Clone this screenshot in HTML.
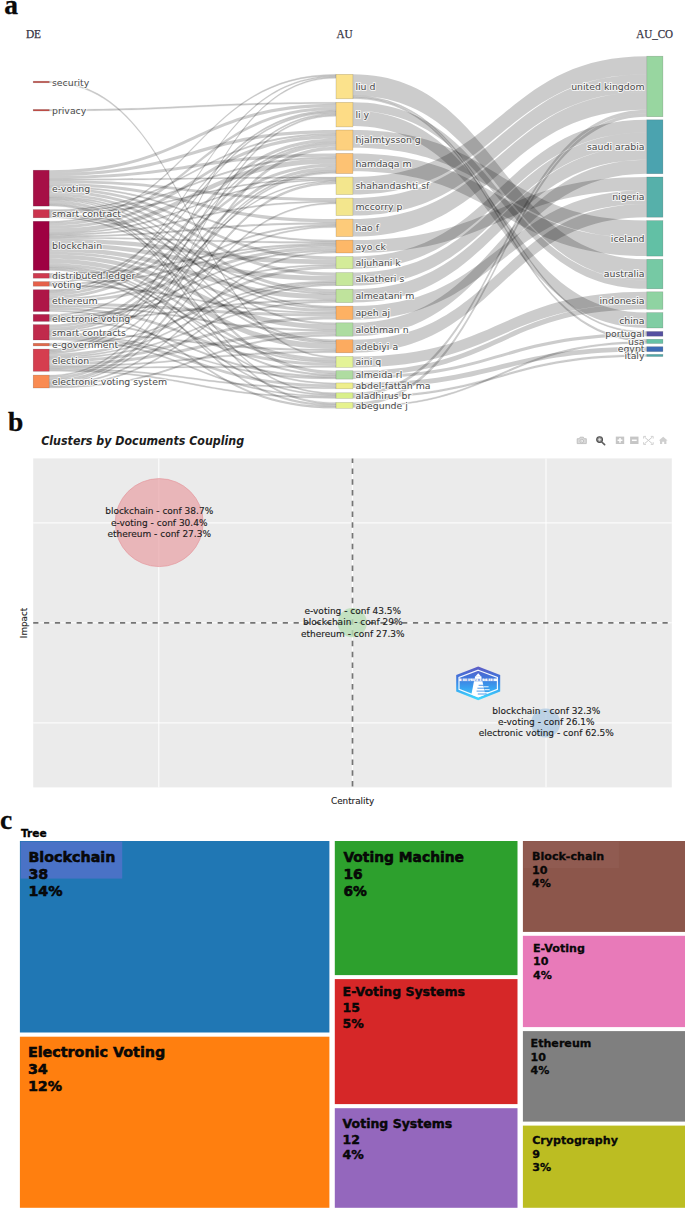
<!DOCTYPE html>
<html lang="en"><head><meta charset="utf-8"><title>Figure</title>
<style>
html,body{margin:0;padding:0;background:#fff}
body{width:685px;height:1214px;overflow:hidden}
svg{display:block}
.sl text{font-family:"DejaVu Sans","Liberation Sans",sans-serif;font-size:9.35px;fill:#4a4a4a;paint-order:stroke;stroke:#fff;stroke-width:2px;stroke-opacity:.75;stroke-linejoin:round}
.hd text{font-family:"Liberation Serif",serif;font-size:12.1px;fill:#33313f;stroke:#33313f;stroke-width:.25px}
.pl text{font-family:"Liberation Serif",serif;font-weight:bold;font-size:27.5px;fill:#0a0a0a;stroke:#0a0a0a;stroke-width:.3px}

.bt text{font-family:"DejaVu Sans","Liberation Sans",sans-serif;font-size:9px;fill:#1b1b1b;stroke:#1b1b1b;stroke-width:.12px}
.btitle{font-family:"DejaVu Sans","Liberation Sans",sans-serif;font-weight:bold;font-style:italic;font-size:11.9px;fill:#1c1c1c}
.bax{font-family:"DejaVu Sans","Liberation Sans",sans-serif;font-size:8.8px;fill:#222;stroke:#222;stroke-width:.12px}
.ctree{font-family:"DejaVu Sans","Liberation Sans",sans-serif;font-weight:bold;font-size:10.6px;fill:#000;stroke:#000;stroke-width:.3px}
.c1 text,.c1b text,.c2 text,.c3 text{font-family:"DejaVu Sans","Liberation Sans",sans-serif;font-weight:bold;fill:#0a0a0a;stroke:#000;stroke-width:.5px}
.c1 text{font-size:14.3px}.c1b text{font-size:13.85px}.c2 text{font-size:12.5px}.c3 text{font-size:11.1px;stroke-width:.28px}.c2 text{stroke-width:.4px}
</style></head>
<body>
<svg width="685" height="1214" viewBox="0 0 685 1214">
<rect width="685" height="1214" fill="#fff"/>
<g id="sankey">
<g fill="#000" fill-opacity="0.2">
<path d="M49.2,180.25C192.6,180.25 192.6,198.10 336.0,198.10L336.0,201.10C192.6,201.10 192.6,183.12 49.2,183.12Z"/>
<path d="M49.2,173.07C192.6,173.07 192.6,130.00 336.0,130.00L336.0,133.37C192.6,133.37 192.6,175.94 49.2,175.94Z"/>
<path d="M49.2,170.20C192.6,170.20 192.6,103.86 336.0,103.86L336.0,106.97C192.6,106.97 192.6,173.07 49.2,173.07Z"/>
<path d="M49.2,190.30C192.6,190.30 192.6,272.60 336.0,272.60L336.0,275.88C192.6,275.88 192.6,193.18 49.2,193.18Z"/>
<path d="M49.2,183.12C192.6,183.12 192.6,219.10 336.0,219.10L336.0,222.50C192.6,222.50 192.6,186.00 49.2,186.00Z"/>
<path d="M49.2,187.43C192.6,187.43 192.6,256.50 336.0,256.50L336.0,259.57C192.6,259.57 192.6,190.30 49.2,190.30Z"/>
<path d="M49.2,175.94C192.6,175.94 192.6,153.40 336.0,153.40L336.0,156.77C192.6,156.77 192.6,178.82 49.2,178.82Z"/>
<path d="M49.2,193.18C192.6,193.18 192.6,289.20 336.0,289.20L336.0,292.55C192.6,292.55 192.6,196.05 49.2,196.05Z"/>
<path d="M49.2,200.36C192.6,200.36 192.6,370.70 336.0,370.70L336.0,374.06C192.6,374.06 192.6,203.23 49.2,203.23Z"/>
<path d="M49.2,242.96C192.6,242.96 192.6,275.88 336.0,275.88L336.0,280.79C192.6,280.79 192.6,247.29 49.2,247.29Z"/>
<path d="M49.2,222.74C192.6,222.74 192.6,106.97 336.0,106.97L336.0,110.08C192.6,110.08 192.6,225.63 49.2,225.63Z"/>
<path d="M49.2,228.52C192.6,228.52 192.6,158.45 336.0,158.45L336.0,163.50C192.6,163.50 192.6,232.85 49.2,232.85Z"/>
<path d="M49.2,254.51C192.6,254.51 192.6,324.48 336.0,324.48L336.0,329.50C192.6,329.50 192.6,258.85 49.2,258.85Z"/>
<path d="M49.2,238.63C192.6,238.63 192.6,259.57 336.0,259.57L336.0,264.19C192.6,264.19 192.6,242.96 49.2,242.96Z"/>
<path d="M49.2,247.29C192.6,247.29 192.6,294.23 336.0,294.23L336.0,299.25C192.6,299.25 192.6,251.63 49.2,251.63Z"/>
<path d="M49.2,263.18C192.6,263.18 192.6,357.97 336.0,357.97L336.0,361.11C192.6,361.11 192.6,266.07 49.2,266.07Z"/>
<path d="M49.2,258.85C192.6,258.85 192.6,343.44 336.0,343.44L336.0,349.06C192.6,349.06 192.6,263.18 49.2,263.18Z"/>
<path d="M49.2,225.63C192.6,225.63 192.6,135.05 336.0,135.05L336.0,138.42C192.6,138.42 192.6,228.52 49.2,228.52Z"/>
<path d="M49.2,251.63C192.6,251.63 192.6,309.10 336.0,309.10L336.0,312.10C192.6,312.10 192.6,254.51 49.2,254.51Z"/>
<path d="M49.2,302.78C192.6,302.78 192.6,313.60 336.0,313.60L336.0,316.60C192.6,316.60 192.6,305.69 49.2,305.69Z"/>
<path d="M49.2,307.14C192.6,307.14 192.6,362.69 336.0,362.69L336.0,365.83C192.6,365.83 192.6,310.05 49.2,310.05Z"/>
<path d="M49.2,295.51C192.6,295.51 192.6,163.50 336.0,163.50L336.0,166.87C192.6,166.87 192.6,298.42 49.2,298.42Z"/>
<path d="M49.2,299.87C192.6,299.87 192.6,246.55 336.0,246.55L336.0,249.78C192.6,249.78 192.6,302.78 49.2,302.78Z"/>
<path d="M49.2,292.61C192.6,292.61 192.6,138.42 336.0,138.42L336.0,141.78C192.6,141.78 192.6,295.51 49.2,295.51Z"/>
<path d="M49.2,335.80C192.6,335.80 192.6,384.38 336.0,384.38L336.0,387.33C192.6,387.33 192.6,338.60 49.2,338.60Z"/>
<path d="M49.2,327.40C192.6,327.40 192.6,166.87 336.0,166.87L336.0,170.23C192.6,170.23 192.6,330.20 49.2,330.20Z"/>
<path d="M49.2,324.60C192.6,324.60 192.6,143.47 336.0,143.47L336.0,146.83C192.6,146.83 192.6,327.40 49.2,327.40Z"/>
<path d="M49.2,359.46C192.6,359.46 192.6,316.60 336.0,316.60L336.0,319.60C192.6,319.60 192.6,362.42 49.2,362.42Z"/>
<path d="M49.2,353.54C192.6,353.54 192.6,265.73 336.0,265.73L336.0,268.80C192.6,268.80 192.6,356.50 49.2,356.50Z"/>
<path d="M49.2,362.42C192.6,362.42 192.6,331.18 336.0,331.18L336.0,334.52C192.6,334.52 192.6,365.38 49.2,365.38Z"/>
<path d="M49.2,376.53C192.6,376.53 192.6,146.83 336.0,146.83L336.0,150.20C192.6,150.20 192.6,379.40 49.2,379.40Z"/>
<path d="M352.9,74.30C499.8,74.30 499.8,259.30 646.8,259.30L646.8,280.43C499.8,280.43 499.8,95.50 352.9,95.50Z"/>
<path d="M352.9,102.30C499.8,102.30 499.8,280.43 646.8,280.43L646.8,288.80C499.8,288.80 499.8,110.70 352.9,110.70Z"/>
<path d="M352.9,110.70C499.8,110.70 499.8,312.60 646.8,312.60L646.8,328.00C499.8,328.00 499.8,126.10 352.9,126.10Z"/>
<path d="M352.9,130.00C499.8,130.00 499.8,220.60 646.8,220.60L646.8,238.35C499.8,238.35 499.8,147.75 352.9,147.75Z"/>
<path d="M352.9,153.40C499.8,153.40 499.8,238.35 646.8,238.35L646.8,256.10C499.8,256.10 499.8,171.15 352.9,171.15Z"/>
<path d="M352.9,177.00C499.8,177.00 499.8,56.20 646.8,56.20L646.8,74.16C499.8,74.16 499.8,194.60 352.9,194.60Z"/>
<path d="M352.9,198.10C499.8,198.10 499.8,74.16 646.8,74.16L646.8,92.01C499.8,92.01 499.8,215.60 352.9,215.60Z"/>
<path d="M352.9,219.10C499.8,219.10 499.8,92.01 646.8,92.01L646.8,109.86C499.8,109.86 499.8,236.60 352.9,236.60Z"/>
<path d="M352.9,240.10C499.8,240.10 499.8,177.00 646.8,177.00L646.8,190.23C499.8,190.23 499.8,253.00 352.9,253.00Z"/>
<path d="M352.9,306.10C499.8,306.10 499.8,190.23 646.8,190.23L646.8,203.97C499.8,203.97 499.8,319.60 352.9,319.60Z"/>
<path d="M352.9,339.70C499.8,339.70 499.8,203.97 646.8,203.97L646.8,217.20C499.8,217.20 499.8,352.70 352.9,352.70Z"/>
<path d="M352.9,256.50C499.8,256.50 499.8,119.80 646.8,119.80L646.8,132.52C499.8,132.52 499.8,268.80 352.9,268.80Z"/>
<path d="M352.9,272.60C499.8,272.60 499.8,132.52 646.8,132.52L646.8,145.97C499.8,145.97 499.8,285.60 352.9,285.60Z"/>
<path d="M352.9,289.20C499.8,289.20 499.8,145.97 646.8,145.97L646.8,159.84C499.8,159.84 499.8,302.60 352.9,302.60Z"/>
<path d="M352.9,322.80C499.8,322.80 499.8,159.84 646.8,159.84L646.8,173.70C499.8,173.70 499.8,336.20 352.9,336.20Z"/>
<path d="M352.9,356.40C499.8,356.40 499.8,291.80 646.8,291.80L646.8,303.83C499.8,303.83 499.8,367.40 352.9,367.40Z"/>
<path d="M352.9,370.70C499.8,370.70 499.8,303.83 646.8,303.83L646.8,309.30C499.8,309.30 499.8,375.70 352.9,375.70Z"/>
<path d="M352.9,375.70C499.8,375.70 499.8,333.07 646.8,333.07L646.8,336.20C499.8,336.20 499.8,378.90 352.9,378.90Z"/>
<path d="M352.9,382.90C499.8,382.90 499.8,346.70 646.8,346.70L646.8,351.60C499.8,351.60 499.8,387.90 352.9,387.90Z"/>
<path d="M352.9,392.80C499.8,392.80 499.8,109.86 646.8,109.86L646.8,113.23C499.8,113.23 499.8,396.10 352.9,396.10Z"/>
<path d="M352.9,402.50C499.8,402.50 499.8,113.23 646.8,113.23L646.8,116.70C499.8,116.70 499.8,405.90 352.9,405.90Z"/>
</g>
<g fill="#000" fill-opacity="0.2" stroke="#000" stroke-opacity="0.10" stroke-width="0.5">
<path d="M49.2,81.20C192.6,81.20 192.6,356.40 336.0,356.40L336.0,357.97C192.6,357.97 192.6,82.80 49.2,82.80Z"/>
<path d="M49.2,109.40C192.6,109.40 192.6,102.30 336.0,102.30L336.0,103.86C192.6,103.86 192.6,111.00 49.2,111.00Z"/>
<path d="M49.2,196.05C192.6,196.05 192.6,306.10 336.0,306.10L336.0,307.60C192.6,307.60 192.6,197.48 49.2,197.48Z"/>
<path d="M49.2,186.00C192.6,186.00 192.6,240.10 336.0,240.10L336.0,241.71C192.6,241.71 192.6,187.43 49.2,187.43Z"/>
<path d="M49.2,198.92C192.6,198.92 192.6,339.70 336.0,339.70L336.0,341.57C192.6,341.57 192.6,200.36 49.2,200.36Z"/>
<path d="M49.2,203.23C192.6,203.23 192.6,392.80 336.0,392.80L336.0,394.20C192.6,394.20 192.6,204.66 49.2,204.66Z"/>
<path d="M49.2,197.48C192.6,197.48 192.6,322.80 336.0,322.80L336.0,324.48C192.6,324.48 192.6,198.92 49.2,198.92Z"/>
<path d="M49.2,204.66C192.6,204.66 192.6,402.50 336.0,402.50L336.0,404.43C192.6,404.43 192.6,206.10 49.2,206.10Z"/>
<path d="M49.2,178.82C192.6,178.82 192.6,177.00 336.0,177.00L336.0,178.17C192.6,178.17 192.6,180.25 49.2,180.25Z"/>
<path d="M49.2,209.60C192.6,209.60 192.6,133.37 336.0,133.37L336.0,135.05C192.6,135.05 192.6,210.97 49.2,210.97Z"/>
<path d="M49.2,212.33C192.6,212.33 192.6,178.17 336.0,178.17L336.0,179.33C192.6,179.33 192.6,213.70 49.2,213.70Z"/>
<path d="M49.2,216.43C192.6,216.43 192.6,341.57 336.0,341.57L336.0,343.44C192.6,343.44 192.6,217.80 49.2,217.80Z"/>
<path d="M49.2,210.97C192.6,210.97 192.6,156.77 336.0,156.77L336.0,158.45C192.6,158.45 192.6,212.33 49.2,212.33Z"/>
<path d="M49.2,213.70C192.6,213.70 192.6,292.55 336.0,292.55L336.0,294.23C192.6,294.23 192.6,215.07 49.2,215.07Z"/>
<path d="M49.2,215.07C192.6,215.07 192.6,307.60 336.0,307.60L336.0,309.10C192.6,309.10 192.6,216.43 49.2,216.43Z"/>
<path d="M49.2,237.19C192.6,237.19 192.6,241.71 336.0,241.71L336.0,243.33C192.6,243.33 192.6,238.63 49.2,238.63Z"/>
<path d="M49.2,234.30C192.6,234.30 192.6,201.10 336.0,201.10L336.0,202.60C192.6,202.60 192.6,235.74 49.2,235.74Z"/>
<path d="M49.2,232.85C192.6,232.85 192.6,179.33 336.0,179.33L336.0,180.50C192.6,180.50 192.6,234.30 49.2,234.30Z"/>
<path d="M49.2,266.07C192.6,266.07 192.6,374.06 336.0,374.06L336.0,375.74C192.6,375.74 192.6,267.51 49.2,267.51Z"/>
<path d="M49.2,268.96C192.6,268.96 192.6,404.43 336.0,404.43L336.0,406.37C192.6,406.37 192.6,270.40 49.2,270.40Z"/>
<path d="M49.2,221.30C192.6,221.30 192.6,74.30 336.0,74.30L336.0,75.63C192.6,75.63 192.6,222.74 49.2,222.74Z"/>
<path d="M49.2,267.51C192.6,267.51 192.6,382.90 336.0,382.90L336.0,384.38C192.6,384.38 192.6,268.96 49.2,268.96Z"/>
<path d="M49.2,235.74C192.6,235.74 192.6,222.50 336.0,222.50L336.0,224.20C192.6,224.20 192.6,237.19 49.2,237.19Z"/>
<path d="M49.2,273.30C192.6,273.30 192.6,243.33 336.0,243.33L336.0,244.94C192.6,244.94 192.6,274.93 49.2,274.93Z"/>
<path d="M49.2,274.93C192.6,274.93 192.6,361.11 336.0,361.11L336.0,362.69C192.6,362.69 192.6,276.57 49.2,276.57Z"/>
<path d="M49.2,276.57C192.6,276.57 192.6,394.20 336.0,394.20L336.0,395.60C192.6,395.60 192.6,278.20 49.2,278.20Z"/>
<path d="M49.2,283.13C192.6,283.13 192.6,244.94 336.0,244.94L336.0,246.55C192.6,246.55 192.6,284.67 49.2,284.67Z"/>
<path d="M49.2,284.67C192.6,284.67 192.6,312.10 336.0,312.10L336.0,313.60C192.6,313.60 192.6,286.20 49.2,286.20Z"/>
<path d="M49.2,281.60C192.6,281.60 192.6,110.08 336.0,110.08L336.0,111.63C192.6,111.63 192.6,283.13 49.2,283.13Z"/>
<path d="M49.2,305.69C192.6,305.69 192.6,329.50 336.0,329.50L336.0,331.18C192.6,331.18 192.6,307.14 49.2,307.14Z"/>
<path d="M49.2,310.05C192.6,310.05 192.6,406.37 336.0,406.37L336.0,408.30C192.6,408.30 192.6,311.50 49.2,311.50Z"/>
<path d="M49.2,298.42C192.6,298.42 192.6,224.20 336.0,224.20L336.0,225.90C192.6,225.90 192.6,299.87 49.2,299.87Z"/>
<path d="M49.2,289.70C192.6,289.70 192.6,75.63 336.0,75.63L336.0,76.97C192.6,76.97 192.6,291.15 49.2,291.15Z"/>
<path d="M49.2,291.15C192.6,291.15 192.6,111.63 336.0,111.63L336.0,113.19C192.6,113.19 192.6,292.61 49.2,292.61Z"/>
<path d="M49.2,315.80C192.6,315.80 192.6,249.78 336.0,249.78L336.0,251.39C192.6,251.39 192.6,317.20 49.2,317.20Z"/>
<path d="M49.2,320.00C192.6,320.00 192.6,375.74 336.0,375.74L336.0,377.42C192.6,377.42 192.6,321.40 49.2,321.40Z"/>
<path d="M49.2,314.40C192.6,314.40 192.6,141.78 336.0,141.78L336.0,143.47C192.6,143.47 192.6,315.80 49.2,315.80Z"/>
<path d="M49.2,317.20C192.6,317.20 192.6,264.19 336.0,264.19L336.0,265.73C192.6,265.73 192.6,318.60 49.2,318.60Z"/>
<path d="M49.2,318.60C192.6,318.60 192.6,299.25 336.0,299.25L336.0,300.93C192.6,300.93 192.6,320.00 49.2,320.00Z"/>
<path d="M49.2,333.00C192.6,333.00 192.6,349.06 336.0,349.06L336.0,350.93C192.6,350.93 192.6,334.40 49.2,334.40Z"/>
<path d="M49.2,334.40C192.6,334.40 192.6,377.42 336.0,377.42L336.0,379.10C192.6,379.10 192.6,335.80 49.2,335.80Z"/>
<path d="M49.2,331.60C192.6,331.60 192.6,225.90 336.0,225.90L336.0,227.60C192.6,227.60 192.6,333.00 49.2,333.00Z"/>
<path d="M49.2,330.20C192.6,330.20 192.6,180.50 336.0,180.50L336.0,181.67C192.6,181.67 192.6,331.60 49.2,331.60Z"/>
<path d="M49.2,338.60C192.6,338.60 192.6,395.60 336.0,395.60L336.0,397.00C192.6,397.00 192.6,340.00 49.2,340.00Z"/>
<path d="M49.2,343.30C192.6,343.30 192.6,170.23 336.0,170.23L336.0,171.92C192.6,171.92 192.6,344.60 49.2,344.60Z"/>
<path d="M49.2,344.60C192.6,344.60 192.6,280.79 336.0,280.79L336.0,282.42C192.6,282.42 192.6,345.90 49.2,345.90Z"/>
<path d="M49.2,352.06C192.6,352.06 192.6,171.92 336.0,171.92L336.0,173.60C192.6,173.60 192.6,353.54 49.2,353.54Z"/>
<path d="M49.2,349.10C192.6,349.10 192.6,76.97 336.0,76.97L336.0,78.30C192.6,78.30 192.6,350.58 49.2,350.58Z"/>
<path d="M49.2,369.82C192.6,369.82 192.6,397.00 336.0,397.00L336.0,398.40C192.6,398.40 192.6,371.30 49.2,371.30Z"/>
<path d="M49.2,356.50C192.6,356.50 192.6,282.42 336.0,282.42L336.0,284.06C192.6,284.06 192.6,357.98 49.2,357.98Z"/>
<path d="M49.2,357.98C192.6,357.98 192.6,300.93 336.0,300.93L336.0,302.60C192.6,302.60 192.6,359.46 49.2,359.46Z"/>
<path d="M49.2,350.58C192.6,350.58 192.6,113.19 336.0,113.19L336.0,114.74C192.6,114.74 192.6,352.06 49.2,352.06Z"/>
<path d="M49.2,368.34C192.6,368.34 192.6,387.33 336.0,387.33L336.0,388.80C192.6,388.80 192.6,369.82 49.2,369.82Z"/>
<path d="M49.2,365.38C192.6,365.38 192.6,350.93 336.0,350.93L336.0,352.80C192.6,352.80 192.6,366.86 49.2,366.86Z"/>
<path d="M49.2,366.86C192.6,366.86 192.6,365.83 336.0,365.83L336.0,367.40C192.6,367.40 192.6,368.34 49.2,368.34Z"/>
<path d="M49.2,386.57C192.6,386.57 192.6,334.52 336.0,334.52L336.0,336.20C192.6,336.20 192.6,388.00 49.2,388.00Z"/>
<path d="M49.2,379.40C192.6,379.40 192.6,181.67 336.0,181.67L336.0,184.00C192.6,184.00 192.6,382.27 49.2,382.27Z"/>
<path d="M49.2,382.27C192.6,382.27 192.6,202.60 336.0,202.60L336.0,204.10C192.6,204.10 192.6,383.70 49.2,383.70Z"/>
<path d="M49.2,385.13C192.6,385.13 192.6,284.06 336.0,284.06L336.0,285.70C192.6,285.70 192.6,386.57 49.2,386.57Z"/>
<path d="M49.2,375.10C192.6,375.10 192.6,114.74 336.0,114.74L336.0,116.30C192.6,116.30 192.6,376.53 49.2,376.53Z"/>
<path d="M49.2,383.70C192.6,383.70 192.6,251.39 336.0,251.39L336.0,253.00C192.6,253.00 192.6,385.13 49.2,385.13Z"/>
<path d="M352.9,95.50C499.8,95.50 499.8,331.50 646.8,331.50L646.8,333.07C499.8,333.07 499.8,97.10 352.9,97.10Z"/>
<path d="M352.9,97.10C499.8,97.10 499.8,339.30 646.8,339.30L646.8,341.47C499.8,341.47 499.8,98.70 352.9,98.70Z"/>
<path d="M352.9,396.10C499.8,396.10 499.8,354.40 646.8,354.40L646.8,356.50C499.8,356.50 499.8,398.20 352.9,398.20Z"/>
<path d="M352.9,405.90C499.8,405.90 499.8,341.47 646.8,341.47L646.8,343.50C499.8,343.50 499.8,407.40 352.9,407.40Z"/>
</g>
<g stroke="#000" stroke-opacity="0.22" stroke-width="0.6">
<rect x="33.2" y="81.2" width="16.0" height="1.6" fill="#c9524b"/>
<rect x="33.2" y="109.4" width="16.0" height="1.6" fill="#c9524b"/>
<rect x="33.2" y="170.2" width="16.0" height="35.9" fill="#a60f46"/>
<rect x="33.2" y="209.6" width="16.0" height="8.2" fill="#cb334e"/>
<rect x="33.2" y="221.3" width="16.0" height="49.1" fill="#9e0142"/>
<rect x="33.2" y="273.3" width="16.0" height="4.9" fill="#cf3a4f"/>
<rect x="33.2" y="281.6" width="16.0" height="4.6" fill="#e5604a"/>
<rect x="33.2" y="289.7" width="16.0" height="21.8" fill="#ae1647"/>
<rect x="33.2" y="314.4" width="16.0" height="7.0" fill="#b51c49"/>
<rect x="33.2" y="324.6" width="16.0" height="15.4" fill="#c02a4c"/>
<rect x="33.2" y="343.3" width="16.0" height="2.6" fill="#e36a4a"/>
<rect x="33.2" y="349.1" width="16.0" height="22.2" fill="#d53e4f"/>
<rect x="33.2" y="375.1" width="16.0" height="12.9" fill="#f98b52"/>
<rect x="336" y="74.3" width="16.9" height="24.5" fill="#fbe28c"/>
<rect x="336" y="102.3" width="16.9" height="24.6" fill="#fddc86"/>
<rect x="336" y="130.0" width="16.9" height="20.2" fill="#fdd07e"/>
<rect x="336" y="153.4" width="16.9" height="20.2" fill="#fdc273"/>
<rect x="336" y="177.0" width="16.9" height="17.6" fill="#f3e68d"/>
<rect x="336" y="198.1" width="16.9" height="17.5" fill="#f3e68d"/>
<rect x="336" y="219.1" width="16.9" height="17.5" fill="#fdcb7a"/>
<rect x="336" y="240.1" width="16.9" height="12.9" fill="#fdb868"/>
<rect x="336" y="256.5" width="16.9" height="12.3" fill="#d4ec99"/>
<rect x="336" y="272.6" width="16.9" height="13.1" fill="#c6e79b"/>
<rect x="336" y="289.2" width="16.9" height="13.4" fill="#bfe39c"/>
<rect x="336" y="306.1" width="16.9" height="13.5" fill="#fdb163"/>
<rect x="336" y="322.8" width="16.9" height="13.4" fill="#addca0"/>
<rect x="336" y="339.7" width="16.9" height="13.1" fill="#fcab60"/>
<rect x="336" y="356.4" width="16.9" height="11.0" fill="#e4f397"/>
<rect x="336" y="370.7" width="16.9" height="8.4" fill="#afdca1"/>
<rect x="336" y="382.9" width="16.9" height="5.9" fill="#eeee8c"/>
<rect x="336" y="392.8" width="16.9" height="5.6" fill="#d9ef8b"/>
<rect x="336" y="402.5" width="16.9" height="5.8" fill="#e6f28e"/>
<rect x="646.8" y="56.2" width="16.1" height="60.5" fill="#98d6a0"/>
<rect x="646.8" y="119.8" width="16.1" height="53.9" fill="#4ba3af"/>
<rect x="646.8" y="177.0" width="16.1" height="40.2" fill="#56b0aa"/>
<rect x="646.8" y="220.6" width="16.1" height="35.5" fill="#62c0a5"/>
<rect x="646.8" y="259.3" width="16.1" height="29.5" fill="#76c9a4"/>
<rect x="646.8" y="291.8" width="16.1" height="17.5" fill="#8fd3a2"/>
<rect x="646.8" y="312.6" width="16.1" height="15.4" fill="#80cda3"/>
<rect x="646.8" y="331.5" width="16.1" height="4.7" fill="#5550a0"/>
<rect x="646.8" y="339.3" width="16.1" height="4.2" fill="#66c2a5"/>
<rect x="646.8" y="346.7" width="16.1" height="4.9" fill="#3d6cb5"/>
<rect x="646.8" y="354.4" width="16.1" height="2.1" fill="#4fa8a8"/>
</g>
<g class="sl">
<text x="52" y="85.6">security</text>
<text x="52" y="113.8">privacy</text>
<text x="52" y="191.7">e-voting</text>
<text x="52" y="217.3">smart contract</text>
<text x="52" y="249.4">blockchain</text>
<text x="52" y="279.4">distributed ledger</text>
<text x="52" y="287.5">voting</text>
<text x="52" y="304.2">ethereum</text>
<text x="52" y="321.5">electronic voting</text>
<text x="52" y="335.9">smart contracts</text>
<text x="52" y="348.2">e-government</text>
<text x="52" y="363.8">election</text>
<text x="52" y="385.2">electronic voting system</text>
<text x="355.4" y="89.8">liu d</text>
<text x="355.4" y="117.9">li y</text>
<text x="355.4" y="143.4">hjalmtysson g</text>
<text x="355.4" y="166.8">hamdaqa m</text>
<text x="355.4" y="189.1">shahandashti sf</text>
<text x="355.4" y="210.2">mccorry p</text>
<text x="355.4" y="231.2">hao f</text>
<text x="355.4" y="249.9">ayo ck</text>
<text x="355.4" y="265.9">aljuhani k</text>
<text x="355.4" y="282.4">alkatheri s</text>
<text x="355.4" y="299.2">almeatani m</text>
<text x="355.4" y="316.2">apeh aj</text>
<text x="355.4" y="332.8">alothman n</text>
<text x="355.4" y="349.6">adebiyi a</text>
<text x="355.4" y="365.2">aini q</text>
<text x="355.4" y="378.2">almeida rl</text>
<text x="355.4" y="389.2">abdel-fattah ma</text>
<text x="355.4" y="398.9">aladhirus br</text>
<text x="355.4" y="408.7">abegunde j</text>
<text x="644.5" y="89.8" text-anchor="end">united kingdom</text>
<text x="644.5" y="150.1" text-anchor="end">saudi arabia</text>
<text x="644.5" y="200.4" text-anchor="end">nigeria</text>
<text x="644.5" y="241.7" text-anchor="end">iceland</text>
<text x="644.5" y="277.4" text-anchor="end">australia</text>
<text x="644.5" y="303.9" text-anchor="end">indonesia</text>
<text x="644.5" y="323.6" text-anchor="end">china</text>
<text x="644.5" y="337.2" text-anchor="end">portugal</text>
<text x="644.5" y="344.7" text-anchor="end">usa</text>
<text x="644.5" y="352.4" text-anchor="end">egypt</text>
<text x="644.5" y="358.8" text-anchor="end">italy</text>
</g>
<g class="hd"><text x="25.9" y="37.9" textLength="15.2" lengthAdjust="spacingAndGlyphs">DE</text><text x="336.4" y="37.9" textLength="16.2" lengthAdjust="spacingAndGlyphs">AU</text><text x="636.3" y="37.6" textLength="36.8" lengthAdjust="spacingAndGlyphs">AU_CO</text></g>
</g>
<g id="panelb">
<rect x="33.2" y="458.4" width="638.6" height="329.0" fill="#ebebeb"/>
<g stroke="#fff" stroke-width="1">
<line x1="158.8" y1="458.4" x2="158.8" y2="787.4"/>
<line x1="352.4" y1="458.4" x2="352.4" y2="787.4"/>
<line x1="546.0" y1="458.4" x2="546.0" y2="787.4"/>
<line x1="33.2" y1="522.9" x2="671.8" y2="522.9"/>
<line x1="33.2" y1="622.8" x2="671.8" y2="622.8"/>
<line x1="33.2" y1="722.9" x2="671.8" y2="722.9"/>
</g>
<g stroke="#747474" stroke-width="1.7">
<line x1="33.2" y1="622.8" x2="671.8" y2="622.8" stroke-dasharray="5.2 5.65"/>
<line x1="352.5" y1="458.4" x2="352.5" y2="787.4" stroke-dasharray="5.5 5.28" stroke-dashoffset="0.8"/>
</g>
<circle cx="159.2" cy="522.6" r="44" fill="#e8a0a4" fill-opacity="0.7" stroke="#e4969d" stroke-opacity=".75" stroke-width="0.9"/>
<circle cx="352.3" cy="622.7" r="14.6" fill="#b9dfb6" fill-opacity="0.8"/>
<circle cx="545.6" cy="723" r="14.6" fill="#b4cde3" fill-opacity="0.85"/>
<g class="bt" text-anchor="middle">
<text x="159.2" y="513.9">blockchain - conf 38.7%</text>
<text x="159.2" y="525.6">e-voting - conf 30.4%</text>
<text x="159.2" y="537.3">ethereum - conf 27.3%</text>
<text x="352.8" y="613.6">e-voting - conf 43.5%</text>
<text x="352.8" y="625.3">blockchain - conf 29%</text>
<text x="352.8" y="637.0">ethereum - conf 27.3%</text>
<text x="546.3" y="713.9">blockchain - conf 32.3%</text>
<text x="546.3" y="725.3">e-voting - conf 26.1%</text>
<text x="546.3" y="736.3">electronic voting - conf 62.5%</text>
</g>
<text class="btitle" x="41.2" y="444.9" textLength="203" lengthAdjust="spacingAndGlyphs">Clusters by Documents Coupling</text>
<text class="bax" x="352.6" y="803.8" text-anchor="middle">Centrality</text>
<text class="bax" transform="translate(26.6,623) rotate(-90)" text-anchor="middle">Impact</text>
<g id="modebar">
<path d="M577.2,438.7h2.1l0.8,-1.5h3.3l0.8,1.5h2.1v4.9h-9.1z" fill="#dadada" stroke="#b9b9b9" stroke-width="0.8" stroke-linejoin="round"/><circle cx="581.8" cy="441.1" r="1.8" fill="#f3f3f3" stroke="#b4b4b4" stroke-width="0.75"/><circle cx="581.8" cy="441.1" r="0.55" fill="#b4b4b4"/>
<g><circle cx="599.6" cy="439.6" r="2.9" fill="#9a9a9a" stroke="#4e4e4e" stroke-width="1.1"/><path d="M601.8,442l2.8,2.6" stroke="#5f5f5f" stroke-width="1.7" stroke-linecap="round"/><path d="M598.2,439.6h2.8M599.6,438.2v2.8" stroke="#e6e6e6" stroke-width="0.8"/></g>
<rect x="615.8" y="436.6" width="8.4" height="7.4" fill="#c6c6c6"/><path d="M617.6,440.3h4.8M620,437.9v4.8" stroke="#fff" stroke-width="1.5"/>
<rect x="630.1" y="436.6" width="8.4" height="7.4" fill="#c6c6c6"/><path d="M631.9,440.3h4.8" stroke="#fff" stroke-width="1.5"/>
<g stroke="#cdcdcd" stroke-width="1" fill="none"><path d="M644.6,437.2l7.6,6.4M652.2,437.2l-7.6,6.4"/><path d="M643.6,438.6v-2.2h2.4M650.8,436.4h2.4v2.2M653.2,442.2v2.2h-2.4M646,444.4h-2.4v-2.2" stroke-width="0.9"/></g>
<path d="M658.8,440.6l4.4,-3.8l4.4,3.8h-1.2v3.3h-2.2v-2.2h-2v2.2h-2.2v-3.3z" fill="#cfcfcf"/>
</g>
<defs><linearGradient id="lg" x1="0" y1="0" x2="0" y2="1"><stop offset="0" stop-color="#5f5cc4"/><stop offset="0.3" stop-color="#4273da"/><stop offset="0.62" stop-color="#38a0f0"/><stop offset="1" stop-color="#3fdcff"/></linearGradient></defs>
<g id="logo">
<path d="M478.2,666.6L500.2,675L500.2,691.4L478.2,700.2L456.2,691.4L456.2,675Z" fill="url(#lg)"/>
<path d="M478.2,670.2L497.4,677.4L497.4,689.3L478.2,696.8L459,689.3L459,677.4Z" fill="none" stroke="#fff" stroke-opacity=".95" stroke-width="1.15"/>
<rect x="459.2" y="678.5" width="38" height="2.6" fill="#fff" fill-opacity=".95"/>
<text x="478.2" y="680.7" text-anchor="middle" font-family="Liberation Sans,sans-serif" font-weight="bold" font-size="2.7" fill="#4a78d8" letter-spacing="1.2">BIBLIOMETRIX</text>
<path d="M478.2,673.2l3.1,3.5h-6.2z" fill="#fff"/>
<rect x="474.9" y="676.5" width="6.6" height="2.3" fill="#fff"/>
<path d="M474,681.2h8.4l3,13.2l-7.2,2.9l-6.8,-2.7z" fill="#fff"/>
<g stroke="#3d8fe6" stroke-width="0.9"><path d="M478.6,685.3h9.4M477.4,688.2h11.6M476.6,691.1h12.6M477.8,694h9"/></g>
<g stroke="#fff" stroke-width="0.9"><path d="M484,686.8h4.6M484.6,689.7h5M485,692.6h4.4"/></g>
</g>
</g>
<g id="panelc">
<text class="ctree" x="21" y="837.2">Tree</text>
<rect x="19.9" y="841" width="309.5" height="191.5" fill="#2077b4"/>
<rect x="19.9" y="1036.7" width="309.5" height="171.1" fill="#ff7f0f"/>
<rect x="334.8" y="841" width="182.7" height="134.1" fill="#2da02d"/>
<rect x="334.8" y="979.1" width="182.7" height="125.0" fill="#d62728"/>
<rect x="334.8" y="1108.2" width="182.7" height="99.6" fill="#9467bd"/>
<rect x="522.9" y="841" width="162.1" height="90.9" fill="#8c564b"/>
<rect x="522.9" y="935.8" width="162.1" height="91.3" fill="#e87ab9"/>
<rect x="522.9" y="1031.1" width="162.1" height="90.5" fill="#7f7f7f"/>
<rect x="522.9" y="1125.6" width="162.1" height="82.2" fill="#bcbd22"/>
<rect x="20.6" y="841.6" width="101.6" height="37" fill="#4a72c6"/>
<rect x="523.4" y="841.5" width="95.5" height="26.5" fill="#fff" fill-opacity=".035"/>
<g class="c1">
<text x="28.4" y="861.9">Blockchain</text>
<text x="28.4" y="879">38</text>
<text x="28.4" y="896.3">14%</text>
</g>
<g class="c1">
<text x="27.9" y="1056.7">Electronic Voting</text>
<text x="27.9" y="1074">34</text>
<text x="27.9" y="1091.1">12%</text>
</g>
<g class="c1b">
<text x="343.4" y="861.8">Voting Machine</text>
<text x="343.4" y="879">16</text>
<text x="343.4" y="896.3">6%</text>
</g>
<g class="c2">
<text x="342.6" y="996.3">E-Voting Systems</text>
<text x="342.6" y="1012.3">15</text>
<text x="342.6" y="1027.5">5%</text>
</g>
<g class="c2">
<text x="342.6" y="1127.7">Voting Systems</text>
<text x="342.6" y="1143.7">12</text>
<text x="342.6" y="1158.9">4%</text>
</g>
<g class="c3">
<text x="532.0" y="860.3">Block-chain</text>
<text x="532.0" y="873.9">10</text>
<text x="532.0" y="887.4">4%</text>
</g>
<g class="c3">
<text x="533.0" y="952.4">E-Voting</text>
<text x="533.0" y="965.3">10</text>
<text x="533.0" y="979.2">4%</text>
</g>
<g class="c3">
<text x="530.6" y="1047.1">Ethereum</text>
<text x="530.6" y="1060.8">10</text>
<text x="530.6" y="1074.4">4%</text>
</g>
<g class="c3">
<text x="532.2" y="1143.8">Cryptography</text>
<text x="532.2" y="1157.5">9</text>
<text x="532.2" y="1171.1">3%</text>
</g>
</g>
<g class="pl"><text x="4.2" y="14.2">a</text><text x="8" y="431">b</text><text x="0" y="829.3">c</text></g>
</svg>
</body></html>
